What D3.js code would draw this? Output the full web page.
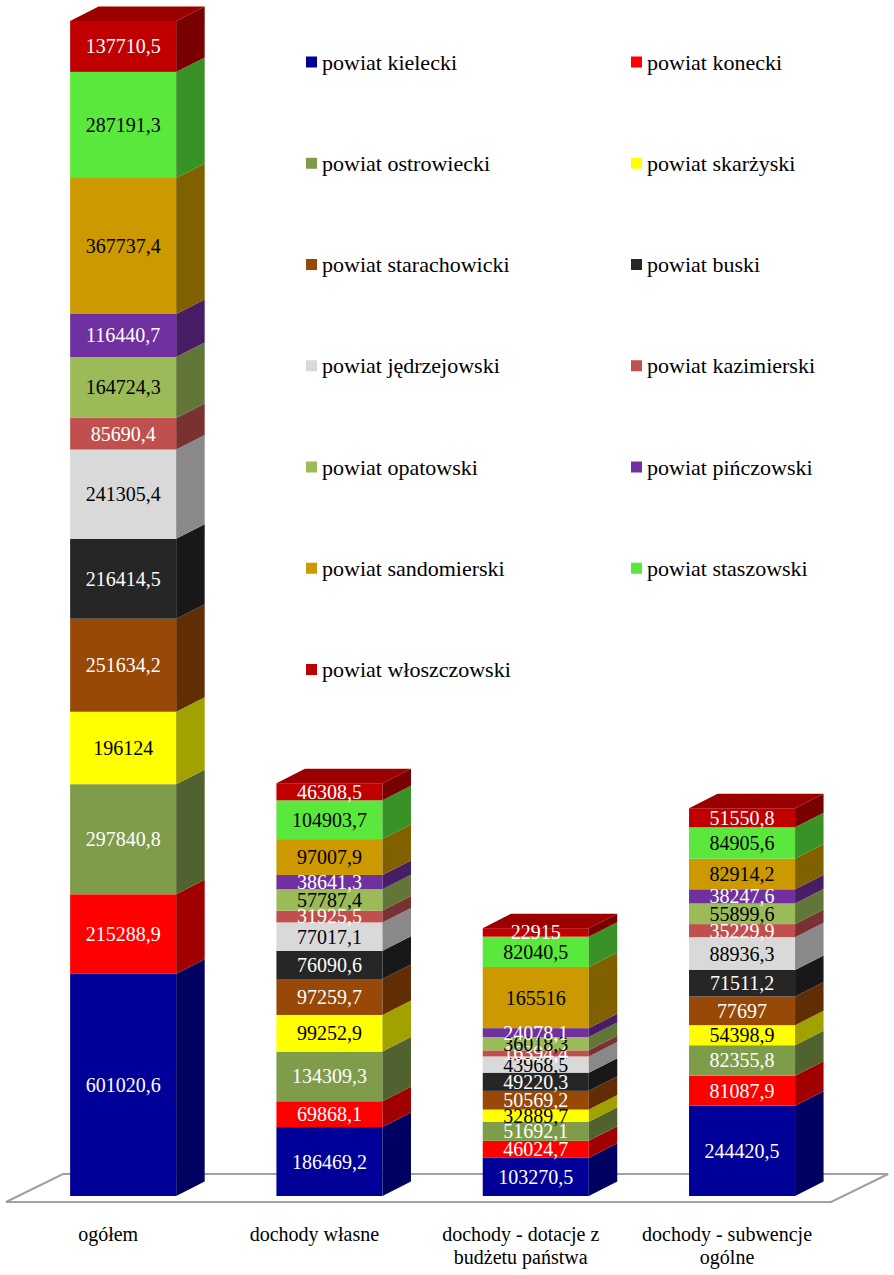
<!DOCTYPE html>
<html>
<head>
<meta charset="utf-8">
<script src="https://cdn.jsdelivr.net/npm/d3@7"></script>
<style>
  body { margin: 0; background: #fff; }
</style>
</head>
<body>
<div id="chart"></div>
<script>
const categories = ["ogółem", "dochody własne", "dochody - dotacje z budżetu państwa", "dochody - subwencje ogólne"];
const categoryLines = [["ogółem"], ["dochody własne"], ["dochody - dotacje z", "budżetu państwa"], ["dochody - subwencje", "ogólne"]];

const series = ["powiat kielecki", "powiat konecki", "powiat ostrowiecki", "powiat skarżyski",
  "powiat starachowicki", "powiat buski", "powiat jędrzejowski", "powiat kazimierski",
  "powiat opatowski", "powiat pińczowski", "powiat sandomierski", "powiat staszowski", "powiat włoszczowski"];

// values per column, in series order (bottom to top)
const ogolem = [601020.6, 215288.9, 297840.8, 196124, 251634.2, 216414.5, 241305.4, 85690.4, 164724.3, 116440.7, 367737.4, 287191.3, 137710.5];
const wlasne = [186469.2, 69868.1, 134309.3, 99252.9, 97259.7, 76090.6, 77017.1, 31925.5, 57787.4, 38641.3, 97007.9, 104903.7, 46308.5];
const dotacje = [103270.5, 46024.7, 51692.1, 32889.7, 50569.2, 49220.3, 43968.5, 16394.4, 36018.3, 24078.1, 165516, 82040.5, 22915];
const subwencje = [244420.5, 81087.9, 82355.8, 54398.9, 77697, 71511.2, 88936.3, 35229.9, 55899.6, 38247.6, 82914.2, 84905.6, 51550.8];

const colors = ["#000099", "#ff0000", "#7f9c4a", "#ffff00", "#984807", "#262626", "#d9d9d9",
  "#c0504d", "#9bbb59", "#7030a0", "#cc9900", "#5ae83c", "#c00000"];
const labelColors = ["#fff", "#fff", "#fff", "#000", "#fff", "#fff", "#000", "#fff", "#000", "#fff", "#000", "#000", "#fff"];

const width = 894, height = 1275;
const baseY = 1196, topY = 21;
const depth = { dx: 28.5, dy: 14.5 };
const font = "'Liberation Serif', 'Times New Roman', Times, serif";

const columns = [ogolem, wlasne, dotacje, subwencje];
const table = categories.map((c, i) => {
  const row = { category: c };
  series.forEach((s, j) => row[s] = columns[i][j]);
  return row;
});

const stacked = d3.stack().keys(series)(table);

const x = d3.scaleBand()
  .domain(categories)
  .range([20, 845.2])
  .paddingInner(0.486)
  .paddingOuter(0.243);

const y = d3.scaleLinear()
  .domain([0, d3.max(table, d => d3.sum(series, s => d[s]))])
  .range([baseY, topY]);

const shade = (c, k) => {
  const r = d3.rgb(c);
  return d3.rgb(r.r * k, r.g * k, r.b * k).formatHex();
};
const fmt = v => String(v).replace(".", ",");

const svg = d3.select("#chart").append("svg")
  .attr("width", width)
  .attr("height", height)
  .attr("font-family", font);

// floor
const fx0 = x.range()[0] - 14, fx1 = x.range()[1] - 14, fy = baseY + 6;
svg.append("path")
  .attr("d", `M${fx0},${fy} L${fx1},${fy} L${fx1 + 57},${fy - 28} L${fx0 + 57},${fy - 28} Z`)
  .attr("fill", "#fff")
  .attr("stroke", "#a0a0a0")
  .attr("stroke-width", 2);

// columns
const bw = x.bandwidth();
stacked.forEach((layer, j) => {
  const g = svg.append("g").attr("class", "series");
  layer.forEach(d => {
    const x0 = x(d.data.category), x1 = x0 + bw;
    const yb = y(d[0]), yt = y(d[1]);
    g.append("rect")
      .attr("x", x0).attr("y", yt)
      .attr("width", bw).attr("height", yb - yt)
      .attr("fill", colors[j]);
    g.append("path")
      .attr("d", `M${x1},${yt} L${x1 + depth.dx},${yt - depth.dy} L${x1 + depth.dx},${yb - depth.dy} L${x1},${yb} Z`)
      .attr("fill", shade(colors[j], 0.63));
    if (j === series.length - 1) {
      g.append("path")
        .attr("d", `M${x0},${yt} L${x0 + depth.dx},${yt - depth.dy} L${x1 + depth.dx},${yt - depth.dy} L${x1},${yt} Z`)
        .attr("fill", shade(colors[j], 0.8));
    }
  });
});

// value labels
stacked.forEach((layer, j) => {
  svg.append("g").selectAll("text")
    .data(layer)
    .join("text")
    .attr("x", d => x(d.data.category) + bw / 2)
    .attr("y", d => (y(d[0]) + y(d[1])) / 2)
    .attr("dy", "0.35em")
    .attr("text-anchor", "middle")
    .attr("font-family", font)
    .attr("font-size", 20)
    .attr("fill", labelColors[j])
    .text(d => fmt(d.data[series[j]]));
});

// category labels
categories.forEach((c, i) => {
  const cx = x(c) + bw / 2 - 15;
  const t = svg.append("text")
    .attr("x", cx)
    .attr("y", 1241)
    .attr("text-anchor", "middle")
    .attr("font-family", font)
    .attr("font-size", 20)
    .attr("fill", "#000");
  categoryLines[i].forEach((line, k) => {
    t.append("tspan")
      .attr("x", cx)
      .attr("dy", k === 0 ? 0 : 23)
      .text(line);
  });
});

// legend
const legend = svg.append("g");
series.forEach((s, i) => {
  const col = i % 2, row = Math.floor(i / 2);
  const item = legend.append("g")
    .attr("transform", `translate(${col === 0 ? 306 : 631}, ${62 + row * 101.25})`);
  item.append("rect")
    .attr("x", 0).attr("y", -5.5)
    .attr("width", 11).attr("height", 11)
    .attr("fill", colors[i]);
  item.append("text")
    .attr("x", 16)
    .attr("y", 0)
    .attr("dy", "0.35em")
    .attr("font-family", font)
    .attr("font-size", 22)
    .attr("fill", "#000")
    .text(s);
});
</script>
</body>
</html>
